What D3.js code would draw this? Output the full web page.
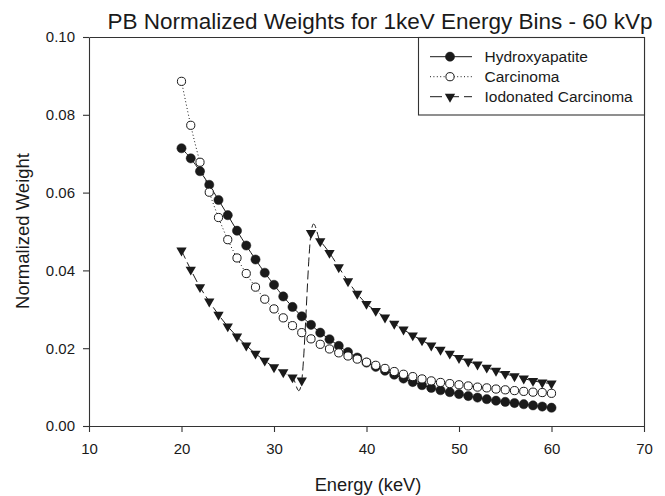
<!DOCTYPE html>
<html>
<head>
<meta charset="utf-8">
<script src="https://cdn.jsdelivr.net/npm/d3@7.9.0/dist/d3.min.js"></script>
<style>
  body { margin: 0; background: #fff; }
  svg { display: block; font-family: "Liberation Sans", Arial, sans-serif; }
</style>
</head>
<body>
<svg id="chart" width="665" height="496"></svg>
<script>
// ── Data ───────────────────────────────────────────────────────────────────
const energies = d3.range(20, 61); // 20 … 60 keV, 1 keV bins

const hydroxyapatite = [
  0.0714, 0.0688, 0.0655, 0.0620, 0.0581, 0.0542, 0.0502, 0.0464, 0.0428, 0.0394,
  0.0363, 0.0333, 0.0306, 0.0282, 0.0260, 0.0240, 0.0223, 0.0206, 0.0190, 0.0176,
  0.0163, 0.0152, 0.0142, 0.0132, 0.0122, 0.0113, 0.0105, 0.0098, 0.0092, 0.0087,
  0.0082, 0.0077, 0.0073, 0.0069, 0.0065, 0.0062, 0.0059, 0.0056, 0.0053, 0.0050,
  0.0047,
];

const carcinoma = [
  0.0886, 0.0773, 0.0678, 0.0601, 0.0536, 0.0479, 0.0432, 0.0392, 0.0357, 0.0326,
  0.0301, 0.0278, 0.0258, 0.0240, 0.0224, 0.0210, 0.0198, 0.0188, 0.0180, 0.0172,
  0.0164, 0.0156, 0.0148, 0.0140, 0.0133, 0.0127, 0.0121, 0.0116, 0.0112, 0.0109,
  0.0106, 0.0103, 0.0100, 0.0098, 0.0095, 0.0093, 0.0091, 0.0089, 0.0087, 0.0086,
  0.0084,
];

const iodonatedCarcinoma = [
  0.0451, 0.0402, 0.0357, 0.0320, 0.0286, 0.0256, 0.0230, 0.0207, 0.0186, 0.0168,
  0.0151, 0.0138, 0.0125, 0.0117, 0.0496, 0.0475, 0.0445, 0.0408, 0.0372, 0.0340,
  0.0314, 0.0296, 0.0279, 0.0263, 0.0248, 0.0233, 0.0220, 0.0207, 0.0196, 0.0186,
  0.0175, 0.0166, 0.0158, 0.0150, 0.0142, 0.0134, 0.0128, 0.0122, 0.0116, 0.0112,
  0.0109,
];

const xTicks = [10, 20, 30, 40, 50, 60, 70];
const yTicks = [0, 0.02, 0.04, 0.06, 0.08, 0.10];

const seriesNames = ['Hydroxyapatite', 'Carcinoma', 'Iodonated Carcinoma'];

// ── Setup ──────────────────────────────────────────────────────────────────
const ink = '#1a1a1a';
const svg = d3.select('#chart');

const x = d3.scaleLinear().domain([10, 70]).range([89, 644]);
const y = d3.scaleLinear().domain([0, 0.1]).range([426, 37]);

// series styles: line dash + marker kind
const series = [
  { name: seriesNames[0], values: hydroxyapatite, dash: null, marker: 'filled' },
  { name: seriesNames[1], values: carcinoma, dash: '1,2.4', marker: 'open' },
  { name: seriesNames[2], values: iodonatedCarcinoma, dash: '9,4', marker: 'tri' },
];

function drawMarker(g, kind, cx, cy) {
  if (kind === 'tri') {
    g.append('path')
      .attr('d', d3.symbol().type(d3.symbolTriangle).size(46)())
      .attr('transform', `translate(${cx},${cy}) rotate(180)`)
      .attr('fill', ink);
  } else {
    g.append('circle')
      .attr('cx', cx).attr('cy', cy)
      .attr('r', kind === 'filled' ? 4.6 : 4.1)
      .attr('fill', kind === 'filled' ? ink : '#fff')
      .attr('stroke', ink)
      .attr('stroke-width', kind === 'filled' ? 0.5 : 1);
  }
}

// ── Title ──────────────────────────────────────────────────────────────────
svg.append('text')
  .attr('x', 380).attr('y', 29)
  .attr('text-anchor', 'middle')
  .attr('font-size', 22.5)
  .attr('fill', ink)
  .text('PB Normalized Weights for 1keV Energy Bins - 60 kVp');

// ── Axes ───────────────────────────────────────────────────────────────────
const xAxis = svg.append('g')
  .attr('transform', `translate(0,${y(0)})`)
  .call(d3.axisBottom(x).tickValues(xTicks).tickFormat(d3.format('d'))
    .tickSize(6).tickSizeOuter(0).tickPadding(11.5));

const yAxis = svg.append('g')
  .attr('transform', `translate(${x(10)},0)`)
  .call(d3.axisLeft(y).tickValues(yTicks).tickFormat(d3.format('.2f'))
    .tickSize(6).tickSizeOuter(0).tickPadding(8));

[xAxis, yAxis].forEach((g) => {
  g.selectAll('path, line').attr('stroke', '#333').attr('stroke-width', 1.1);
  g.selectAll('text').attr('font-size', 15).attr('fill', ink)
    .attr('font-family', '"Liberation Sans", Arial, sans-serif');
});

// frame: top and right edges
svg.append('path')
  .attr('d', `M${x(10) + 0.5},${y(0.1) + 0.5}H${x(70) + 0.5}V${y(0) + 0.5}`)
  .attr('fill', 'none')
  .attr('stroke', '#333')
  .attr('stroke-width', 1.1);

// axis titles
svg.append('text')
  .attr('x', 368).attr('y', 491)
  .attr('text-anchor', 'middle')
  .attr('font-size', 18.3)
  .attr('fill', ink)
  .text('Energy (keV)');

svg.append('text')
  .attr('transform', 'translate(28.5,231) rotate(-90)')
  .attr('text-anchor', 'middle')
  .attr('font-size', 18.5)
  .attr('fill', ink)
  .text('Normalized Weight');

// ── Series ─────────────────────────────────────────────────────────────────
const line = d3.line()
  .x((d) => x(d[0]))
  .y((d) => y(d[1]))
  .curve(d3.curveCardinal.tension(0));

series.forEach((s) => {
  const pts = energies.map((e, i) => [e, s.values[i]]);
  const g = svg.append('g');
  g.append('path')
    .attr('d', line(pts))
    .attr('fill', 'none')
    .attr('stroke', ink)
    .attr('stroke-width', 1)
    .attr('stroke-dasharray', s.dash);
  pts.forEach((p) => drawMarker(g, s.marker, x(p[0]), y(p[1])));
});

// ── Legend ─────────────────────────────────────────────────────────────────
const legend = svg.append('g');
legend.append('rect')
  .attr('x', 418.5).attr('y', 37.5)
  .attr('width', 226).attr('height', 77.5)
  .attr('fill', '#fff')
  .attr('stroke', '#333')
  .attr('stroke-width', 1.1);

series.forEach((s, i) => {
  const ly = 56.7 + i * 20;
  legend.append('line')
    .attr('x1', 430).attr('x2', 472)
    .attr('y1', ly).attr('y2', ly)
    .attr('stroke', ink)
    .attr('stroke-width', 1)
    .attr('stroke-dasharray', s.dash === '9,4' ? '12,5' : s.dash);
  drawMarker(legend, s.marker, 450, ly);
  legend.append('text')
    .attr('x', 484.5).attr('y', ly)
    .attr('dy', '0.35em')
    .attr('font-size', 15.5)
    .attr('fill', ink)
    .text(s.name);
});
</script>
</body>
</html>
